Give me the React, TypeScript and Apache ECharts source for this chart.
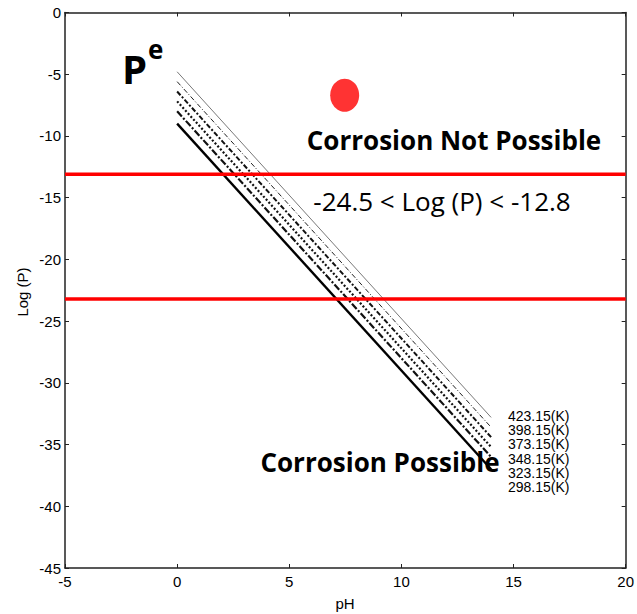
import React, { useEffect, useRef } from "react";
import * as echarts from "echarts";

// Temperatures (K) for the six equilibrium lines
const temperatures = ["423.15", "398.15", "373.15", "348.15", "323.15", "298.15"];
// pH range of each line
const phStart = 0;
const phEnd = 14;
// Log(P) at pH = 0 and at pH = 14 for each temperature
const logPStart = [-4.8, -5.6, -6.4, -7.2, -8.0, -9.0];
const logPEnd = [-32.8, -33.6, -34.4, -35.2, -36.0, -37.0];
// Red boundary levels
const boundaryLevels = [-13.1, -23.2];
// Red marker point [pH, Log(P)]
const markerPoint = [7.47, -6.7];
// Axis ranges / ticks
const xMin = -5, xMax = 20, xInterval = 5;
const yMin = -45, yMax = 0, yInterval = 5;

const lineStyles: any[] = [
  { width: 0.8, type: "solid", color: "#555" },
  { width: 1.0, type: [5, 2, 1, 2], color: "#222" },
  { width: 2.0, type: [5, 2, 2, 2], color: "#111" },
  { width: 2.2, type: [2, 2], color: "#111" },
  { width: 2.2, type: [7, 2, 2, 2], color: "#111" },
  { width: 2.4, type: "solid", color: "#000" },
];

const labelYs = [416, 430, 444, 459, 473, 487];

export default function App() {
  const ref = useRef<HTMLDivElement>(null);
  useEffect(() => {
    if (!ref.current) return;
    const chart = echarts.init(ref.current, null, { renderer: "svg" });
    const font = "'Liberation Sans', Arial, sans-serif";
    const axisCommon = {
      type: "value" as const,
      splitLine: { show: false },
      axisLine: { show: true, onZero: false, lineStyle: { color: "#222", width: 1.5 } },
      axisTick: { show: true, inside: true, length: 4, lineStyle: { color: "#222", width: 1 } },
    };
    const series: any[] = temperatures.map((t, i) => ({
      type: "line",
      name: t + "(K)",
      data: [
        [phStart, logPStart[i]],
        [phEnd, logPEnd[i]],
      ],
      showSymbol: false,
      symbol: "none",
      lineStyle: lineStyles[i],
      z: 3,
    }));
    boundaryLevels.forEach((lv) => {
      series.push({
        type: "line",
        data: [
          [xMin, lv],
          [xMax, lv],
        ],
        symbol: "none",
        lineStyle: { color: "#ff0000", width: 3.5 },
        z: 4,
      });
    });
    series.push({
      type: "scatter",
      data: [markerPoint],
      symbol: "circle",
      symbolSize: [29, 33],
      itemStyle: { color: "#ff0000" },
      z: 5,
    });
    const bigFont = "'Open Sans', sans-serif";
    const graphic: any[] = [
      {
        type: "text",
        x: 122,
        y: 68,
        style: { text: "P", font: `bold 40px ${bigFont}`, fill: "#000", verticalAlign: "middle" },
        z: 10,
      },
      {
        type: "text",
        x: 148,
        y: 49,
        style: { text: "e", font: `bold 26px ${bigFont}`, fill: "#000", verticalAlign: "middle" },
        z: 10,
      },
      {
        type: "text",
        x: 454,
        y: 140,
        style: { text: "Corrosion Not Possible", font: `bold 26px ${bigFont}`, fill: "#000", align: "center", verticalAlign: "middle" },
        z: 10,
      },
      {
        type: "text",
        x: 442,
        y: 201,
        style: { text: "-24.5 < Log (P) < -12.8", font: `26px ${bigFont}`, fill: "#000", align: "center", verticalAlign: "middle" },
        z: 10,
      },
      {
        type: "text",
        x: 380,
        y: 462,
        style: { text: "Corrosion Possible", font: `bold 26px ${bigFont}`, fill: "#000", align: "center", verticalAlign: "middle" },
        z: 2,
      },
      {
        type: "text",
        x: 22,
        y: 292,
        rotation: Math.PI / 2,
        style: { text: "Log (P)", font: `15px ${font}`, fill: "#000", align: "center", verticalAlign: "middle" },
      },
      {
        type: "text",
        x: 345,
        y: 603,
        style: { text: "pH", font: `15px ${font}`, fill: "#000", align: "center", verticalAlign: "middle" },
      },
      ...temperatures.map((t, i) => ({
        type: "text",
        x: 508,
        y: labelYs[i],
        style: { text: t + "(K)", font: `14px ${font}`, fill: "#000", verticalAlign: "middle" },
        z: 10,
      })),
    ];
    chart.setOption({
      animation: false,
      backgroundColor: "#fff",
      grid: { left: 65, right: 8, top: 12.5, bottom: 46, containLabel: false },
      xAxis: [
        {
          ...axisCommon,
          min: xMin,
          max: xMax,
          interval: xInterval,
          position: "bottom",
          axisLabel: { color: "#000", fontFamily: font, fontSize: 15, margin: 6 },
        },
        {
          ...axisCommon,
          min: xMin,
          max: xMax,
          interval: xInterval,
          position: "top",
          axisLabel: { show: false },
        },
      ],
      yAxis: [
        {
          ...axisCommon,
          min: yMin,
          max: yMax,
          interval: yInterval,
          position: "left",
          axisLabel: { color: "#000", fontFamily: font, fontSize: 15, margin: 4 },
        },
        {
          ...axisCommon,
          min: yMin,
          max: yMax,
          interval: yInterval,
          position: "right",
          axisLabel: { show: false },
        },
      ],
      series,
      graphic,
    });
    return () => chart.dispose();
  }, []);
  return <div ref={ref} style={{ width: 637, height: 614, position: "absolute", left: 0, top: 0 }} />;
}
